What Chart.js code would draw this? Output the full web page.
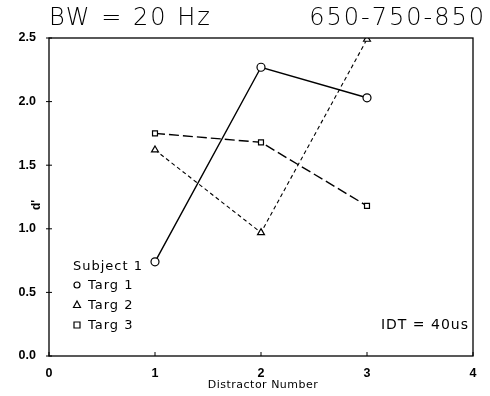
<!DOCTYPE html>
<html><head><meta charset="utf-8">
<script src="https://cdn.jsdelivr.net/npm/chart.js@4/dist/chart.umd.min.js"></script>
<style>html,body{margin:0;padding:0;background:#fff}#wrap{width:490px;height:396px}</style>
</head><body><div id="wrap"><canvas id="c" width="490" height="396"></canvas></div>
<script>
const categories = [1, 2, 3];
const targ1 = [0.74, 2.27, 2.03];
const targ2 = [1.62, 0.97, 2.49];
const targ3 = [1.75, 1.68, 1.18];
const seriesNames = ['Targ 1', 'Targ 2', 'Targ 3'];
const yTicks = [0, 0.5, 1.0, 1.5, 2.0, 2.5];
const xTicks = [0, 1, 2, 3, 4];
const titleLeft = 'BW = 20 Hz';
const titleRight = '650-750-850';
const yLabel = "d'";
const xLabel = 'Distractor Number';
const legendTitle = 'Subject 1';
const noteText = 'IDT = 40us';

const FONT = '"Liberation Sans", "DejaVu Sans", sans-serif';
const DV = '"DejaVu Sans", sans-serif';
const mk = (vals) => categories.map((c, i) => ({x: c, y: vals[i]}));

const deco = {
  id: 'deco',
  afterDraw(chart) {
    const {ctx, chartArea: a, scales} = chart;
    ctx.save();
    ctx.strokeStyle = '#000'; ctx.lineWidth = 1.3;
    ctx.strokeRect(a.left, a.top, a.right - a.left, a.bottom - a.top);
    ctx.lineWidth = 1;
    xTicks.forEach(v => { const x = scales.x.getPixelForValue(v); ctx.beginPath(); ctx.moveTo(x, a.bottom); ctx.lineTo(x, a.bottom - 4); ctx.stroke(); });
    yTicks.forEach(v => { const y = scales.y.getPixelForValue(v); ctx.beginPath(); ctx.moveTo(a.left - 3, y); ctx.lineTo(a.left + 3, y); ctx.stroke(); });
    ctx.fillStyle = '#000';
    ctx.textBaseline = 'alphabetic';
    ctx.font = '200 24px ' + DV;
    ctx.letterSpacing = '2px';
    ctx.textAlign = 'left';
    ctx.fillText(titleLeft, 49, 25);
    ctx.textAlign = 'right';
    ctx.fillText(titleRight, 486, 25);
    ctx.letterSpacing = '0px';
    ctx.save();
    ctx.translate(40, 205);
    ctx.rotate(-Math.PI / 2);
    ctx.textAlign = 'center';
    ctx.font = 'bold 12px ' + FONT;
    ctx.fillText(yLabel, 0, 0);
    ctx.restore();
    ctx.textAlign = 'center';
    ctx.font = '11px ' + DV;
    ctx.letterSpacing = '0.5px';
    ctx.fillText(xLabel, scales.x.getPixelForValue(2) + 2, 388);
    ctx.textAlign = 'left';
    ctx.font = '13px ' + DV;
    ctx.letterSpacing = '1px';
    ctx.fillText(legendTitle, 73, 270);
    seriesNames.forEach((n, i) => {
      const y = 289 + i * 20;
      ctx.lineWidth = 1.2;
      ctx.strokeStyle = '#000';
      const cx = 77, cy = y - 4;
      ctx.beginPath();
      if (i === 0) ctx.arc(cx, cy, 3, 0, Math.PI * 2);
      else if (i === 1) { ctx.moveTo(cx, cy - 4); ctx.lineTo(cx + 3.5, cy + 2.5); ctx.lineTo(cx - 3.5, cy + 2.5); ctx.closePath(); }
      else ctx.rect(cx - 3, cy - 3, 6, 6);
      ctx.stroke();
      ctx.fillText(n, 88, y);
    });
    ctx.font = '14px ' + DV;
    ctx.letterSpacing = '1px';
    ctx.textAlign = 'right';
    ctx.fillText(noteText, 469, 329);
    ctx.restore();
  }
};

const common = {borderColor: '#000', borderWidth: 1.4, pointBackgroundColor: '#fff', pointBorderColor: '#000', pointBorderWidth: 1.2, pointRadius: 4, fill: false, tension: 0};

new Chart(document.getElementById('c'), {
  type: 'line',
  data: {
    datasets: [
      Object.assign({label: seriesNames[0], data: mk(targ1), pointStyle: 'circle'}, common),
      Object.assign({label: seriesNames[1], data: mk(targ2), pointStyle: 'triangle', borderDash: [4, 3]}, common, {borderWidth: 1.1}),
      Object.assign({label: seriesNames[2], data: mk(targ3), pointStyle: 'rect', borderDash: [10, 4]}, common, {pointRadius: 3.5})
    ]
  },
  options: {
    responsive: false, animation: false, devicePixelRatio: 1,
    layout: {padding: {top: 38, right: 17, left: 0, bottom: 0}},
    plugins: {legend: {display: false}, tooltip: {enabled: false}, title: {display: false}},
    scales: {
      x: {type: 'linear', min: 0, max: 4,
        afterFit(s) { s.height = 40; },
        afterBuildTicks(s) { s.ticks = xTicks.map(v => ({value: v})); },
        grid: {display: false}, border: {display: false},
        ticks: {color: '#000', font: {family: FONT, size: 12.5, weight: 'bold'}, padding: 2, callback: v => String(v)}},
      y: {min: 0, max: 2.5,
        afterFit(s) { s.width = 49; },
        afterBuildTicks(s) { s.ticks = yTicks.map(v => ({value: v})); },
        grid: {display: false}, border: {display: false},
        ticks: {color: '#000', font: {family: FONT, size: 12.5, weight: 'bold'}, padding: 5, callback: v => v.toFixed(1)}}
    }
  },
  plugins: [deco]
});
</script></body></html>
